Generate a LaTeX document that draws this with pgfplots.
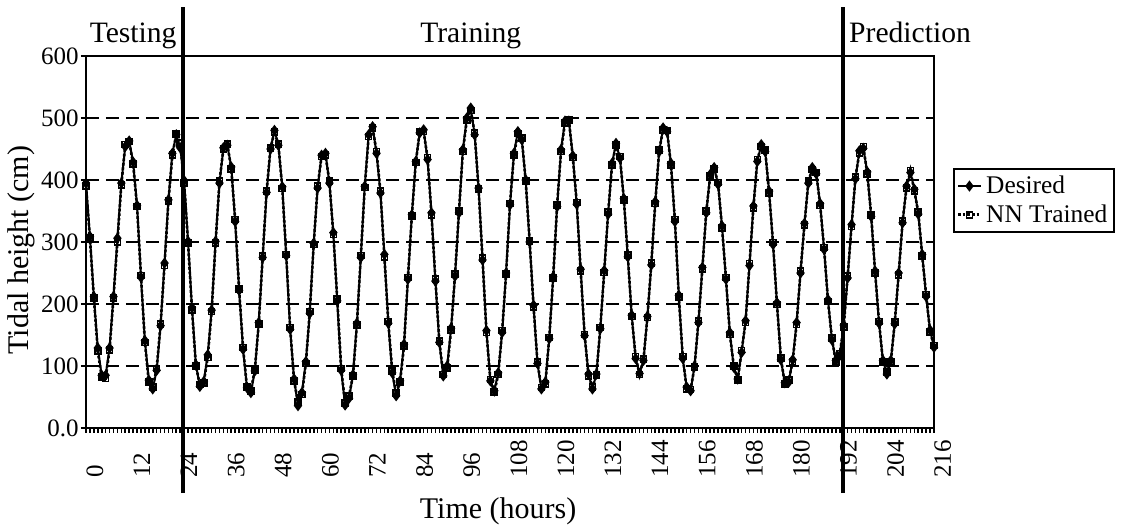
\documentclass[border=0pt]{standalone}
\usepackage{fontspec}
\setmainfont{Liberation Serif}
\usepackage{pgfplots}
\usepackage{pgfplotstable}
\pgfplotsset{compat=1.18}
\pgfplotstableread{
t d n
0 395 390
1 309 306
2 212 210
3 129 124
4 85 82
5 85 80
6 129 126
7 212 210
8 306 300
9 395 392
10 454 457
11 463 462
12 429 426
13 359 357
14 243 246
15 141 138
16 77 74
17 63 66
18 93 96
19 165 168
20 266 262
21 368 366
22 443 440
23 473 474
24 452 460
25 399 395
26 301 298
27 194 190
28 102 100
29 67 70
30 75 73
31 118 114
32 190 188
33 301 298
34 395 398
35 452 450
36 456 458
37 421 418
38 333 336
39 222 224
40 127 130
41 65 66
42 57 60
43 92 94
44 170 168
45 275 277
46 380 382
47 450 452
48 480 477
49 456 458
50 389 386
51 278 280
52 159 162
53 79 76
54 36 42
55 57 54
56 107 104
57 185 188
58 298 296
59 387 390
60 440 438
61 443 440
62 395 398
63 315 312
64 205 208
65 93 96
66 37 40
67 48 52
68 86 84
69 169 166
70 275 278
71 390 388
72 473 470
73 486 484
74 443 446
75 379 382
76 280 276
77 169 172
78 89 92
79 52 56
80 76 74
81 135 132
82 240 243
83 344 342
84 430 428
85 476 478
86 481 478
87 433 436
88 347 344
89 237 240
90 138 140
91 84 86
92 100 97
93 161 158
94 245 248
95 347 350
96 449 446
97 500 497
98 516 512
99 473 476
100 387 385
101 271 274
102 157 154
103 76 78
104 60 58
105 89 86
106 154 157
107 250 248
108 360 362
109 443 440
110 478 475
111 465 468
112 400 398
113 300 302
114 198 195
115 104 106
116 63 65
117 74 71
118 144 146
119 244 242
120 357 360
121 449 446
122 495 492
123 495 497
124 439 436
125 361 364
126 256 253
127 149 151
128 87 84
129 63 66
130 87 85
131 160 162
132 254 251
133 345 348
134 427 424
135 459 456
136 435 438
137 370 368
138 276 279
139 182 180
140 112 115
141 88 86
142 109 111
143 180 178
144 263 266
145 365 362
146 446 448
147 484 481
148 478 480
149 427 424
150 333 336
151 214 211
152 112 115
153 66 63
154 60 62
155 100 98
156 170 173
157 259 256
158 347 350
159 409 406
160 420 418
161 393 396
162 326 323
163 240 243
164 154 151
165 98 100
166 79 77
167 122 125
168 173 170
169 262 265
170 358 355
171 430 433
172 457 454
173 446 448
174 382 379
175 296 299
176 202 199
177 110 113
178 73 71
179 74 77
180 110 107
181 170 167
182 250 253
183 330 327
184 395 398
185 420 417
186 410 412
187 362 359
188 288 291
189 207 204
190 142 145
191 109 106
192 117 120
193 166 163
194 242 245
195 328 325
196 402 405
197 447 444
198 451 454
199 413 410
200 341 344
201 253 250
202 169 172
203 109 106
204 87 90
205 109 106
206 168 171
207 250 247
208 331 334
209 390 387
210 412 415
211 385 382
212 345 348
213 280 277
214 212 215
215 158 155
216 130 133
}\tidedata
\begin{document}
\begin{tikzpicture}
\begin{axis}[
  scale only axis, width=424pt, height=186pt,
  xmin=0, xmax=216, ymin=0, ymax=600,
  clip=false,
  xtick={0,12,...,216},
  ytick={0,100,...,600},
  yticklabels={0.0,100,200,300,400,500,600},
  minor x tick num=11,
  tick align=outside, tick pos=left,
  major tick length=2.5pt, minor tick length=2.5pt,
  every tick/.style={line width=0.8pt, black},
  /pgf/number format/assume math mode=true,
  ticklabel style={font=\fontsize{12.5}{14}\selectfont},
  xticklabel style={rotate=90, anchor=north west, inner sep=0pt},
  xticklabel shift=22.5pt,
  yticklabel style={inner sep=1pt},
  ymajorgrids,
  grid style={dash pattern=on 6.5pt off 3.5pt, line width=1pt, black},
  axis line style={line width=1pt},
  xlabel={Time (hours)},
  ylabel={Tidal height (cm)},
  label style={font=\fontsize{15}{17}\selectfont},
  xlabel style={at={(axis description cs:0.486,0)}, anchor=north, inner sep=0pt, yshift=-34.5pt},
  ylabel style={at={([xshift=-25.5pt]axis description cs:0,0.478)}, anchor=south, inner sep=0pt},
  legend style={at={(1,1)}, anchor=north west, xshift=9.5pt, yshift=-56pt,
    draw=black, line width=0.8pt, font=\fontsize{12.7}{13}\selectfont,
    inner sep=1.5pt, row sep=0pt, cells={anchor=west}},
  legend cell align=left,
  legend image code/.code={\draw[mark repeat=2,mark phase=2] plot coordinates {(0.22cm,0cm) (0.42cm,0cm) (0.62cm,0cm)};},
]
\addplot[black, line width=1pt, mark=diamond*, mark size=2pt, mark options={solid}] table[x=t, y=d] {\tidedata};
\addlegendentry{Desired}
\addplot[black, line width=1.3pt, densely dotted, mark=square, mark size=1.5pt, mark options={solid, fill=white, line width=0.8pt}] table[x=t, y=n] {\tidedata};
\addlegendentry{NN Trained}
\draw[line width=2pt] (axis cs:24.6,-105) -- (axis cs:24.6,679);
\draw[line width=2pt] (axis cs:192.7,-105) -- (axis cs:192.7,679);
\node[anchor=base, font=\fontsize{14.8}{16}\selectfont] at (axis cs:12,621) {Testing};
\node[anchor=base, font=\fontsize{14.8}{16}\selectfont] at (axis cs:98,621) {Training};
\node[anchor=base, font=\fontsize{14.8}{16}\selectfont] at (axis cs:209.9,621) {Prediction};
\coordinate (BL) at (rel axis cs:0,0);
\coordinate (TR) at (rel axis cs:1,1);
\end{axis}
\pgfresetboundingbox
\path ([shift={(-43pt,-49.5pt)}]BL) rectangle ([shift={(95.5pt,28pt)}]TR);
\end{tikzpicture}
\end{document}
